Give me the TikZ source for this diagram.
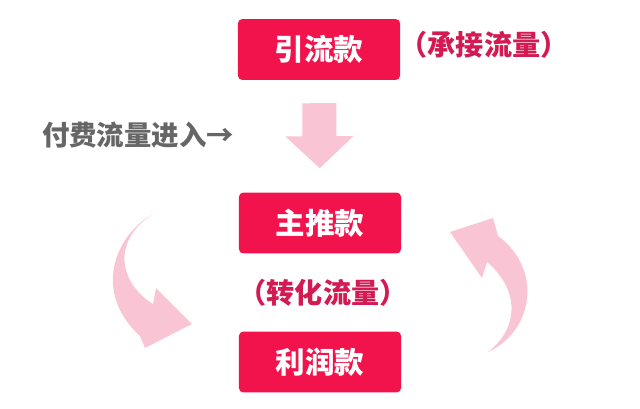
\documentclass[tikz,border=0pt]{standalone}
\usepackage{fontspec}
\newfontfamily\cjk{Noto Sans CJK SC}
\usepackage{tikz}
\usetikzlibrary{positioning}
\usetikzlibrary{arrows.meta}

\definecolor{boxred}{HTML}{F3134C}
\definecolor{notered}{HTML}{D41A52}
\definecolor{flowpink}{HTML}{F9C4D3}
\definecolor{labelgray}{HTML}{666666}

\begin{document}
\begin{tikzpicture}[x=0.025cm,y=-0.025cm,
  kuan/.style={fill=boxred,rounded corners=3pt,minimum width=4.05cm,minimum height=1.52cm,
    text=white,font=\cjk\bfseries\fontsize{21}{25}\selectfont},
  note/.style={text=notered,font=\cjk\bfseries\fontsize{20}{24}\selectfont},
  flow/.style={flowpink,line width=0.85cm,shorten <=0.575cm,shorten >=0.6cm,
    -{Triangle[length=0.8cm,width=1.65cm]}}]

\useasboundingbox (0,0) rectangle (640,409);

% --- Boxes ---
\node[kuan] (yin) at (319,49.5) {引流款};
\node[kuan] (zhu) at (320,223) {主推款};
\node[kuan] (li) at (320,362) {利润款};

% --- Notes ---
\node[note] (chengjie) at (484,45) {（承接流量）};
\node[note] (zhuanhua) at (323,293) {（转化流量）};
\node[text=labelgray,font=\cjk\bfseries\fontsize{19.5}{23}\selectfont] (fufei) at (138,135) {付费流量进入→};

% --- Flow arrows ---
\draw[flow] (yin) -- (zhu);

\fill[flowpink] (153,214) .. controls (115,235) and (92,292) .. (140,336)
  -- (145,348) -- (192,324) -- (156,288) -- (153,304)
  .. controls (118,282) and (112,240) .. (153,214) -- cycle;

\fill[flowpink] (488,352) .. controls (535,330) and (542,268) .. (498,236)
  -- (493,218) -- (450,232) -- (482,278) -- (487,262)
  .. controls (522,292) and (517,330) .. (488,352) -- cycle;

\end{tikzpicture}
\end{document}
